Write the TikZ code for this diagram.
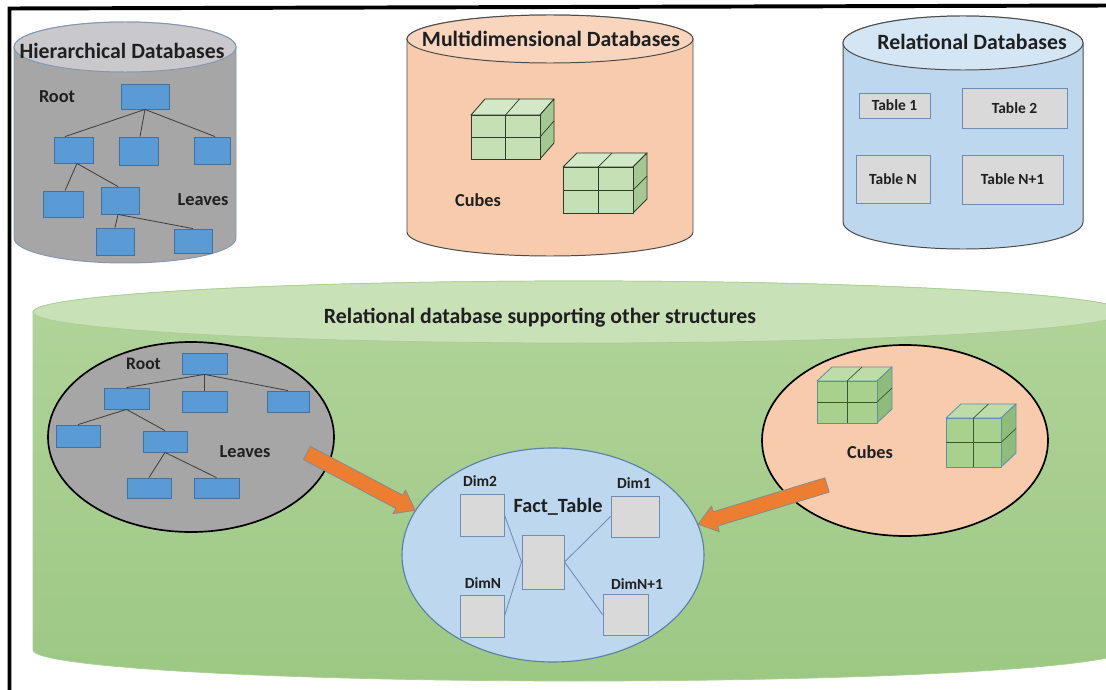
\documentclass[tikz,border=0pt]{standalone}
\usepackage{fontspec}
\setmainfont{Carlito}
\usetikzlibrary{calc,shapes.geometric}

\def\pxu{0.025cm}

\definecolor{txt}{HTML}{1F1F1F}
\definecolor{grayBody}{HTML}{A6A6A6}
\definecolor{grayTop}{HTML}{C9C9CD}
\definecolor{grayLine}{HTML}{8497B0}
\definecolor{peachBody}{HTML}{F8CBAD}
\definecolor{peachTop}{HTML}{F9D5BE}
\definecolor{blueBody}{HTML}{BDD7EE}
\definecolor{blueTop}{HTML}{D4E5F4}
\definecolor{cylLine}{HTML}{4A4A4A}
\definecolor{greenTop}{HTML}{C8E1B7}
\definecolor{greenHi}{HTML}{B1D49A}
\definecolor{greenLo}{HTML}{9DC884}
\definecolor{greenLine}{HTML}{A9CF93}
\definecolor{bboxFill}{HTML}{5B9BD5}
\definecolor{bboxLine}{HTML}{41719C}
\definecolor{tblFill}{HTML}{D9D9D9}
\definecolor{tblLine}{HTML}{6F8DB0}
\definecolor{linkc}{HTML}{404040}
\definecolor{factLine}{HTML}{5B7FA6}
\definecolor{arrowFill}{HTML}{ED7D31}
\definecolor{arrowLine}{HTML}{8A8A8A}
% cube palettes: A = light cubes, B = cubes on green
\definecolor{cfA}{HTML}{C5E0B4}
\definecolor{ctA}{HTML}{D3E8C6}
\definecolor{csA}{HTML}{A3C892}
\definecolor{ceA}{HTML}{2F3A2C}
\definecolor{cgA}{HTML}{2F3A2C}
\definecolor{cfB}{HTML}{A9D18E}
\definecolor{ctB}{HTML}{BEDCAA}
\definecolor{csB}{HTML}{8FBC7A}
\definecolor{ceB}{HTML}{5E8FAA}
\definecolor{cgB}{HTML}{38572A}

% cylinder: centre x, x radius, top y, bottom y, y radius, body options, lid options
\newcommand\cylshape[7]{%
  \path[#6] (#1-#2,#3) -- (#1-#2,#4)
    arc[start angle=180,end angle=360,x radius=#2*\pxu,y radius=#5*\pxu]
    -- (#1+#2,#3)
    arc[start angle=0,end angle=180,x radius=#2*\pxu,y radius=#5*\pxu] -- cycle;
  \path[#7] (#1,#3) ellipse[x radius=#2*\pxu,y radius=#5*\pxu];
}

% 2x2 cube: front top-left x, y, width, height, depth dx, depth dy, palette
\newcommand\cubeat[7]{%
  \filldraw[draw=ce#7,fill=ct#7,line width=0.6pt,line join=round]
    (#1,#2) -- ++(#5,-#6) -- ++(#3,0) -- ++(-#5,#6) -- cycle;
  \filldraw[draw=ce#7,fill=cs#7,line width=0.6pt,line join=round]
    (#1+#3,#2) -- ++(#5,-#6) -- ++(0,#4) -- ++(-#5,#6) -- cycle;
  \filldraw[draw=ce#7,fill=cf#7,line width=0.6pt] (#1,#2) rectangle ++(#3,#4);
  \draw[draw=cg#7,line width=0.6pt] (#1+#3/2,#2) -- ++(0,#4);
  \draw[draw=cg#7,line width=0.6pt] (#1,#2+#4/2) -- ++(#3,0);
  \draw[draw=cg#7,line width=0.5pt] (#1+#3/2,#2) -- ++(#5,-#6);
  \draw[draw=cg#7,line width=0.5pt] (#1+#3,#2+#4/2) -- ++(#5,-#6);
}

% block arrow from a tail coordinate to a tip coordinate
\newcommand\fatarrow[2]{%
  \coordinate (hb) at ($(#2)!12.8pt!(#1)$);
  \filldraw[fill=arrowFill,draw=arrowLine,line width=0.6pt,line join=round]
    ($(#1)!5.3pt!90:(#2)$) -- ($(hb)!5.3pt!90:(#2)$) -- ($(hb)!9.5pt!90:(#2)$)
    -- (#2) -- ($(hb)!9.5pt!-90:(#2)$) -- ($(hb)!5.3pt!-90:(#2)$)
    -- ($(#1)!5.3pt!-90:(#2)$) -- cycle;
}

\begin{document}
\begin{tikzpicture}[x=0.025cm,y=-0.025cm,text=txt,
  ttl/.style={font=\bfseries\fontsize{15.5}{18}\selectfont,inner sep=0},
  lbl/.style={font=\bfseries\fontsize{13}{15}\selectfont,inner sep=0},
  sml/.style={font=\bfseries\fontsize{11}{13}\selectfont,inner sep=0},
  sz/.style 2 args={minimum width=#1*\pxu,minimum height=#2*\pxu},
  bbox/.style={draw=bboxLine,fill=bboxFill,line width=0.6pt,inner sep=0},
  tbox/.style={draw=tblLine,fill=tblFill,line width=0.7pt,inner sep=0,
    font=\bfseries\fontsize{11}{13}\selectfont},
  link/.style={draw=linkc,line width=0.6pt}]

\useasboundingbox (0,0) rectangle (1106,690);
\fill[white] (0,0) rectangle (1106,690);

\begin{scope}
\clip (0,0) rectangle (1106,690);

% ---------- hierarchical database ----------
\cylshape{125}{111}{47}{238}{25}{fill=grayBody,draw=grayLine,line width=0.7pt}{fill=grayTop,draw=grayLine,line width=0.7pt}
\node[ttl] (hdbt) at (122,51) {Hierarchical Databases};
\node[lbl] (hroot) at (57,97) {Root};
\node[lbl] (hleaves) at (203,200) {Leaves};
\node[bbox,sz={48}{25}] (tr) at (145,96.5) {};
\node[bbox,sz={39}{26}] (tA) at (73.5,150) {};
\node[bbox,sz={39}{28}] (tB) at (138.5,151) {};
\node[bbox,sz={36}{27}] (tC) at (212,150.5) {};
\node[bbox,sz={40}{26}] (tD) at (63,204) {};
\node[bbox,sz={38}{27}] (tE) at (120,200.5) {};
\node[bbox,sz={38}{27}] (tF) at (115,241.5) {};
\node[bbox,sz={38}{24}] (tG) at (193,241) {};
\draw[link] (tr.south) -- ($(tA.north)+(-8.5,0)$);
\draw[link] (tr.south) -- ($(tB.north)+(1.5,0)$);
\draw[link] (tr.south) -- ($(tC.north)+(3,0)$);
\draw[link] ($(tA.south)+(3.5,0)$) -- ($(tD.north)+(2,0)$);
\draw[link] ($(tA.south)+(3.5,0)$) -- ($(tE.north)+(-2,0)$);
\draw[link] ($(tE.south)+(-2,0)$) -- (tF.north);
\draw[link] ($(tE.south)+(-2,0)$) -- (tG.north);

% ---------- multidimensional database ----------
\cylshape{550}{143}{39}{232}{24}{fill=peachBody,draw=cylLine,line width=0.7pt}{fill=peachTop,draw=cylLine,line width=0.7pt}
\node[ttl] (mdbt) at (551,39) {Multidimensional Databases};
\cubeat{471}{115}{69}{44}{14}{16}{A}
\cubeat{563}{167}{70}{46}{14}{14}{A}
\node[lbl] (mcubes) at (478,200) {Cubes};

% ---------- relational database ----------
\cylshape{963}{120}{43}{222}{27}{fill=blueBody,draw=cylLine,line width=0.7pt}{fill=blueTop,draw=cylLine,line width=0.7pt}
\node[ttl] (rdbt) at (972,42) {Relational Databases};
\node[tbox,sz={71}{25}] (t1) at (894.5,105.5) {Table 1};
\node[tbox,sz={105}{40}] (t2) at (1014.5,108) {Table 2};
\node[tbox,sz={74}{48}] (tN) at (893,179) {Table N};
\node[tbox,sz={101}{49},text depth=-3pt] (tN1) at (1012.5,179.5) {Table N+1};

% ---------- relational database supporting other structures ----------
\cylshape{579}{546}{312}{650}{31}{top color=greenHi,bottom color=greenLo,draw=greenLine,line width=0.5pt}{fill=greenTop,draw=greenLine,line width=0.5pt}
\node[ttl] (gdbt) at (540,318) {Relational database supporting other structures};

% hierarchy inside the relational store
\node[ellipse,draw=black,line width=1.2pt,fill=grayBody,sz={286}{190},inner sep=0] (gell) at (191,437) {};
\node[lbl,font=\bfseries\fontsize{12.5}{15}\selectfont] (broot) at (143.5,364) {Root};
\node[lbl] (bleaves) at (245,452) {Leaves};
\node[bbox,sz={45}{21}] (br) at (204.5,363.5) {};
\node[bbox,sz={45}{21}] (bA) at (126.5,398.5) {};
\node[bbox,sz={45}{21}] (bB) at (204.5,401.5) {};
\node[bbox,sz={42}{21}] (bC) at (288,401.5) {};
\node[bbox,sz={44}{22}] (bD) at (78,436) {};
\node[bbox,sz={44}{21}] (bE) at (165,441.5) {};
\node[bbox,sz={44}{20}] (bF) at (149,488) {};
\node[bbox,sz={45}{20}] (bG) at (216.5,488) {};
\draw[link] (br.south) -- (bA.north);
\draw[link] (br.south) -- (bB.north);
\draw[link] (br.south) -- (bC.north);
\draw[link] (bA.south) -- (bD.north);
\draw[link] (bA.south) -- (bE.north);
\draw[link] (bE.south) -- (bF.north);
\draw[link] (bE.south) -- (bG.north);

% cubes inside the relational store
\node[ellipse,draw=black,line width=1.2pt,fill=peachBody,sz={286}{191},inner sep=0] (pell) at (905,440.5) {};
\cubeat{817}{381}{60}{42}{15}{14}{B}
\cubeat{946}{418}{55}{49}{15}{14}{B}
\node[lbl] (bcubes) at (870,452) {Cubes};

% star schema
\node[ellipse,draw=factLine,line width=0.8pt,fill=blueBody,sz={302}{214},inner sep=0] (fe) at (553,555) {};
\node[tbox,sz={44}{42}] (d2) at (482,515) {};
\node[tbox,sz={48}{41}] (d1) at (635,516.5) {};
\node[tbox,sz={42}{54}] (ft) at (543,562) {};
\node[tbox,sz={44}{42}] (dN) at (482,616) {};
\node[tbox,sz={45}{41}] (dN1) at (625.5,614.5) {};
\draw[draw=tblLine,line width=0.6pt] (d2.east) -- (ft.west);
\draw[draw=tblLine,line width=0.6pt] (dN.east) -- (ft.west);
\draw[draw=tblLine,line width=0.6pt] (ft.east) -- (d1.west);
\draw[draw=tblLine,line width=0.6pt] (ft.east) -- (dN1.west);
\node[sml] (ld2) at (480,481) {Dim2};
\node[sml] (ld1) at (634,483) {Dim1};
\node[lbl,font=\bfseries\fontsize{14.4}{17}\selectfont] (lft) at (558,507) {Fact\_Table};
\node[sml] (ldN) at (483,583) {DimN};
\node[sml] (ldN1) at (637,584) {DimN+1};

% block arrows into the star schema
\coordinate (a1tail) at (307,453);
\coordinate (a1tip) at (fe.162);
\coordinate (a2tail) at (827,485);
\coordinate (a2tip) at (fe.12.5);
\fatarrow{a1tail}{a1tip}
\fatarrow{a2tail}{a2tip}
\end{scope}

% frame
\draw[line width=2.8pt,line cap=rect] (1110,5.5) -- (9.5,8.5) -- (9.5,695);
\end{tikzpicture}
\end{document}
